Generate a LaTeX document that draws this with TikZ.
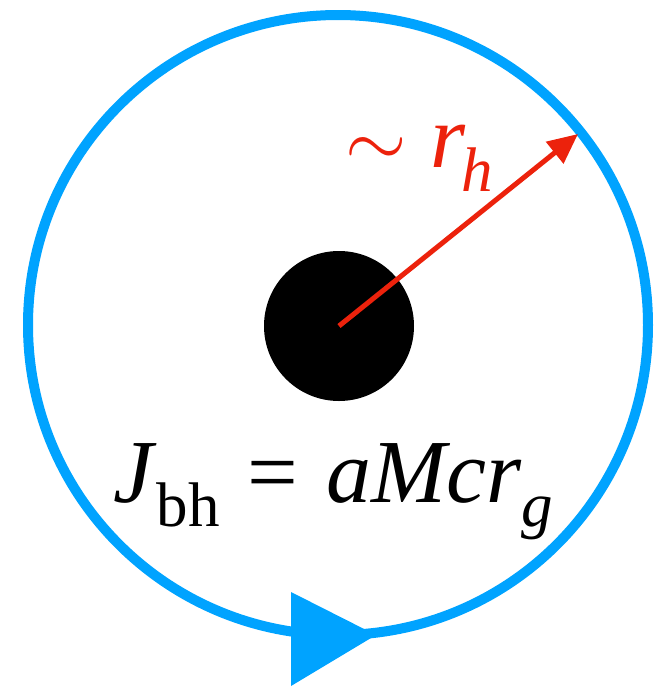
\documentclass[tikz,border=0pt]{standalone}
\usepackage{fontspec}
\setmainfont{Liberation Serif}
\usetikzlibrary{arrows.meta}
\definecolor{ringblue}{RGB}{0,163,255}
\definecolor{spinred}{RGB}{236,34,12}
\newcommand{\lowidx}[1]{\raisebox{-0.27em}{\fontsize{63}{63}\selectfont #1}}
\newcommand{\bigsim}{{\fontsize{10}{10}\selectfont\raisebox{0.3pt}{\scalebox{7.9}{$\sim$}}}}

\begin{document}
\begin{tikzpicture}[x=1pt,y=-1pt,>=Triangle,font=\fontsize{90}{90}\selectfont,
  ring/.style={ringblue,line width=10pt},
  hole/.style={circle,fill=black,minimum size=150pt,inner sep=0pt}]
\useasboundingbox (0,0) rectangle (654,689);
\coordinate (c) at (338,325);
\draw[ring] (c) circle[radius=310];
\fill[ringblue] (291,592)--(291,686)--(376,635)--cycle;
\node[hole] (bh) at (339,326){};
\coordinate (tip) at (578,134);
\draw[->,spinred,line width=5pt,arrows={-Triangle[length=30pt,width=27pt]}] (bh.center)--(tip);
\node[spinred,anchor=base west,inner sep=0pt] (rh) at (345,167){\bigsim\hspace{24pt}\textit{r}\hspace{-4pt}\lowidx{\textit{h}}};
\node[anchor=base west,inner sep=0pt] (jbh) at (113,502){\textit{J}\lowidx{bh}\hspace{28pt}=\hspace{28pt}\textit{aMcr}\lowidx{\textit{g}}};
\end{tikzpicture}
\end{document}
